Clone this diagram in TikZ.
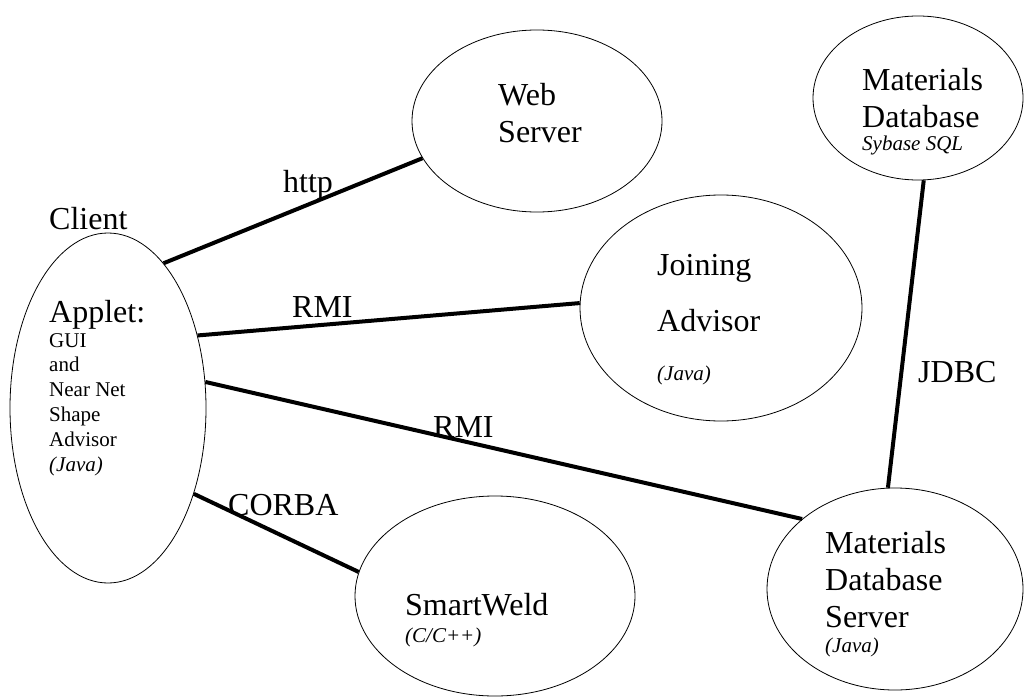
\documentclass[tikz,border=0pt]{standalone}
\usepackage{fontspec}
\setmainfont{Liberation Serif}
\usetikzlibrary{shapes.geometric}

\tikzset{
	blob/.style={ellipse, draw, line width=0.8pt, inner sep=0pt},
	link/.style={line width=4pt},
	tag/.style={font=\fontsize{32}{37}\selectfont, inner sep=0pt, anchor=base west},
	txt/.style={font=\fontsize{32}{37}\selectfont, inner sep=0pt, anchor=north west, align=left},
	note/.style={font=\fontsize{21}{24.8}\selectfont, inner sep=0pt, anchor=base west, align=left}
}

\begin{document}
\begin{tikzpicture}[x=1pt,y=-1pt]
	\useasboundingbox (0,0) rectangle (1024,698);
	% ellipses
	\node (client) at (108,408)	[blob, minimum width=196pt, minimum height=350pt]	{};
	\node (web)    at (537,121)	[blob, minimum width=250pt, minimum height=182pt]	{};
	\node (join)   at (721,308)	[blob, minimum width=282pt, minimum height=226pt]	{};
	\node (matdb)  at (918,98)	[blob, minimum width=210pt, minimum height=164pt]	{};
	\node (mds)    at (895,589)	[blob, minimum width=256pt, minimum height=202pt]	{};
	\node (weld)   at (495,596)	[blob, minimum width=280pt, minimum height=200pt]	{};
	% texts
	\node (clientT) at (49,229)	[tag]	{Client};
	\node (appletT) at (49,322)	[tag]	{Applet:};
	\node (appletS) at (49,333)	[note, anchor=north west]	{GUI\\and\\Near Net\\Shape\\Advisor\\\textit{(Java)}};
	\node (webT)    at (498,83)	[txt]	{Web\\Server};
	\node (joinT)   at (657,254)	[txt, font=\fontsize{32}{56}\selectfont]	{Joining\\Advisor};
	\node (joinS)   at (657,380)	[note]	{\textit{(Java)}};
	\node (matdbT)  at (862,68)	[txt]	{Materials\\Database};
	\node (matdbS)  at (862,150)	[note]	{\textit{Sybase SQL}};
	\node (mdsT)    at (825,531)	[txt]	{Materials\\Database\\Server};
	\node (mdsS)    at (825,652)	[note]	{\textit{(Java)}};
	\node (weldT)   at (405,615)	[tag]	{SmartWeld};
	\node (weldS)   at (405,642)	[note]	{\textit{(C/C++)}};
	% connectors
	\draw[link] (client.69.8) -- (web.198.6);
	\draw[link] (client.39.4) -- (join.178);
	\draw[link] (client.15.3) -- (mds.143.1);
	\draw[link] (client.-45) -- (weld.170.3);
	\draw[link] (mds.94) -- (matdb.274.9);
	% connector labels
	\node (http)  at (283,192)	[tag]	{http};
	\node (rmiA)  at (292,317)	[tag]	{RMI};
	\node (rmiB)  at (433,437)	[tag]	{RMI};
	\node (corba) at (228,515)	[tag]	{CORBA};
	\node (jdbc)  at (918,382)	[tag]	{JDBC};
\end{tikzpicture}
\end{document}
